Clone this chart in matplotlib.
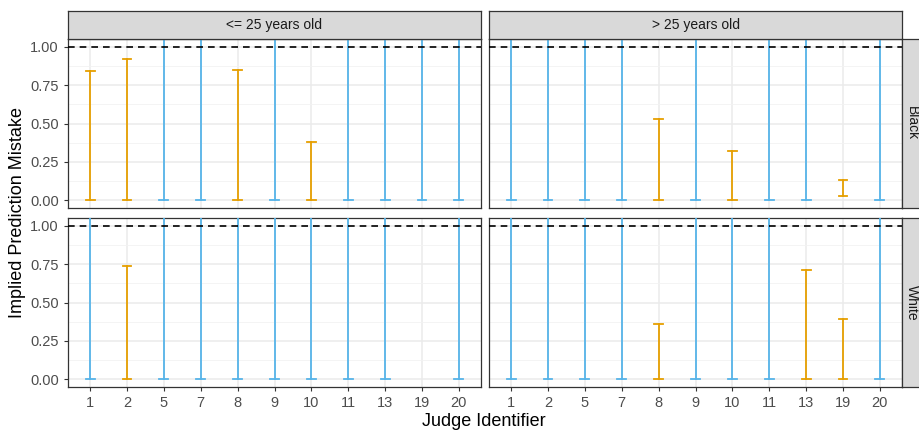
import matplotlib.pyplot as plt
import numpy as np

plt.rcParams['font.family'] = ['Liberation Sans', 'DejaVu Sans']

judges = ['1', '2', '5', '7', '8', '9', '10', '11', '13', '19', '20']
ages = ['<= 25 years old', '> 25 years old']
races = ['Black', 'White']

# lower / upper bound of the implied prediction mistake per judge
# upper of 1.5 means the bound is not informative (runs past the top of the panel)
# None = no estimate for that judge
lower = {
    ('Black', '<= 25 years old'): [0, 0, 0, 0, 0, 0, 0, 0, 0, 0, 0],
    ('Black', '> 25 years old'): [0, 0, 0, 0, 0, 0, 0, 0, 0, 0.03, 0],
    ('White', '<= 25 years old'): [0, 0, 0, 0, 0, 0, 0, 0, 0, None, 0],
    ('White', '> 25 years old'): [0, 0, 0, 0, 0, 0, 0, 0, 0, 0, 0],
}
upper = {
    ('Black', '<= 25 years old'): [0.84, 0.92, 1.5, 1.5, 0.85, 1.5, 0.38, 1.5, 1.5, 1.5, 1.5],
    ('Black', '> 25 years old'): [1.5, 1.5, 1.5, 1.5, 0.53, 1.5, 0.32, 1.5, 1.5, 0.13, 1.5],
    ('White', '<= 25 years old'): [1.5, 0.74, 1.5, 1.5, 1.5, 1.5, 1.5, 1.5, 1.5, None, 1.5],
    ('White', '> 25 years old'): [1.5, 1.5, 1.5, 1.5, 0.36, 1.5, 1.5, 1.5, 0.71, 0.39, 1.5],
}

orange = '#E69F00'
blue = '#56B4E9'
W, H = 919, 430

fig = plt.figure(figsize=(W / 100, H / 100), dpi=100)

col_x = [68, 489]
row_y = [39, 218]
pw, ph = 413, 169


def fbox(x, y, w, h):
    return [x / W, 1 - (y + h) / H, w / W, h / H]


x = np.arange(len(judges))
for r, race in enumerate(races):
    for c, age in enumerate(ages):
        ax = fig.add_axes(fbox(col_x[c], row_y[r], pw, ph))
        lo = lower[(race, age)]
        hi = upper[(race, age)]
        for i in range(len(judges)):
            if lo[i] is None:
                continue
            col = blue if hi[i] > 1.0 else orange
            ax.plot([x[i], x[i]], [lo[i], hi[i]], color=col, lw=1.3, zorder=3)
            for yy in (lo[i], hi[i]):
                ax.plot([x[i] - 0.12, x[i] + 0.12], [yy, yy], color=col, lw=1.3, zorder=3)
        ax.axhline(1.0, color='black', lw=1.2, ls=(0, (4, 3)), zorder=4)
        ax.set_xlim(-0.6, len(judges) - 0.4)
        ax.set_ylim(-0.05, 1.05)
        ax.set_xticks(x)
        ax.set_yticks([0, 0.25, 0.5, 0.75, 1.0])
        ax.set_yticks([0.125, 0.375, 0.625, 0.875], minor=True)
        ax.grid(True, which='major', color='#EBEBEB', lw=1.1, zorder=0)
        ax.grid(True, which='minor', axis='y', color='#F2F2F2', lw=0.6, zorder=0)
        ax.set_axisbelow(True)
        for s in ax.spines.values():
            s.set_color('#333333')
            s.set_linewidth(0.9)
        ax.tick_params(which='major', length=3, color='#333333', labelcolor='#4D4D4D',
                       labelsize=10.5, width=0.8)
        ax.tick_params(which='minor', length=0)
        if c == 0:
            ax.set_yticklabels(['0.00', '0.25', '0.50', '0.75', '1.00'])
        else:
            ax.set_yticklabels([])
            ax.tick_params(axis='y', length=0)
        if r == 1:
            ax.set_xticklabels(judges)
        else:
            ax.set_xticklabels([])
            ax.tick_params(axis='x', length=0)

        # column strips
        if r == 0:
            sa = fig.add_axes(fbox(col_x[c], 11, pw, 28))
            sa.set_facecolor('#D9D9D9')
            sa.set_xticks([])
            sa.set_yticks([])
            for s in sa.spines.values():
                s.set_color('#333333')
                s.set_linewidth(0.9)
            sa.text(0.5, 0.5, age, ha='center', va='center', fontsize=10,
                    color='#1A1A1A', transform=sa.transAxes)
        # row strips
        if c == 1:
            sa = fig.add_axes(fbox(col_x[1] + pw, row_y[r], 19, ph))
            sa.set_facecolor('#D9D9D9')
            sa.set_xticks([])
            sa.set_yticks([])
            for s in sa.spines.values():
                s.set_color('#333333')
                s.set_linewidth(0.9)
            sa.text(0.5, 0.5, race, ha='center', va='center', fontsize=10,
                    color='#1A1A1A', rotation=-90, transform=sa.transAxes)

fig.text(18 / W, 1 - 213 / H, 'Implied Prediction Mistake', rotation=90,
         ha='center', va='center', fontsize=13)
fig.text(484 / W, 1 - 421 / H, 'Judge Identifier', ha='center', va='center', fontsize=13)

fig.savefig('out.png', dpi=100)
